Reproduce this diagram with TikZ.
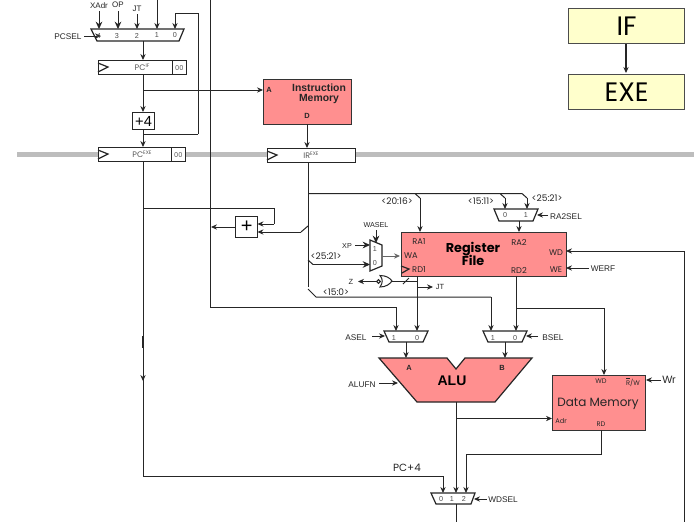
\documentclass[tikz,border=0pt]{standalone}
\usepackage{fontspec}
\setmainfont{Liberation Sans}
\newfontfamily\goth{Poppins}
\usetikzlibrary{arrows.meta,calc}
\definecolor{pinkf}{HTML}{FF8F8F}
\definecolor{yelf}{HTML}{FFFFCC}
\definecolor{ink}{HTML}{262626}
\definecolor{barg}{HTML}{BDBDBD}
\newcommand{\fs}[1]{\fontsize{#1}{#1}\selectfont}
\tikzset{
 x=0.75pt,y=-0.75pt,
 wire/.style={draw=ink,line width=0.75pt},
 arr/.style={wire,-{Stealth[length=4.5pt,width=4pt]}},
 heavy/.style={arr,-{Stealth[length=5.5pt,width=5pt]}},
 lab/.style={inner sep=0pt,text=ink,font=\fs{6.2}},
 glab/.style={inner sep=0pt,text=ink,font=\goth\fs{6.2}},
 blab/.style={inner sep=0pt,text=ink,font=\goth\fs{6.8}},
 dig/.style={inner sep=0pt,text=black!70,font=\fs{5.4}},
 reg/.style={draw=ink,line width=0.9pt,fill=white,inner sep=0pt,minimum height=10.5pt,text=black!65,font=\goth\fs{6}},
 mem/.style={draw=black!80,line width=0.9pt,fill=pinkf,inner sep=0pt},
 stage/.style={draw=black!70,line width=0.9pt,fill=yelf,inner sep=0pt,minimum width=87pt,minimum height=26pt,font=\goth\fs{20}},
 sumbox/.style={draw=ink,line width=0.9pt,fill=white,inner sep=0pt},
 mux/.style={draw=ink,line width=0.9pt,fill=white}
}
\newcommand{\Sup}[1]{\raisebox{2pt}{\fs{3.8}#1}}
\begin{document}
\begin{tikzpicture}
\useasboundingbox[fill=white] (0,0) rectangle (694,522);
% grey bar
\fill[barg] (17,152) rectangle (694,157);

% boxes
\node[reg,minimum width=56.25pt,anchor=north west] (pcif) at (98,60) {};
\node[reg,minimum width=10.5pt,anchor=north east] (pcifz) at (187,60) {\fs{5}00};
\node[lab,text=black!65,font=\goth\fs{6}] (pciflab) at (142,67) {PC\Sup{IF}};
\node[reg,minimum width=55.5pt,anchor=north west] (pcex) at (98,147) {};
\node[reg,minimum width=10.5pt,anchor=north east] (pcexz) at (186,147) {\fs{5}00};
\node[lab,text=black!65,font=\goth\fs{6}] (pcexlab) at (142,154) {PC\Sup{EXE}};
\node[reg,minimum width=66pt,anchor=north west] (irex) at (267,148) {};
\node[lab,text=black!65,font=\goth\fs{6}] (irlab) at (311,155) {IR\Sup{EXE}};
\node[sumbox,minimum width=16.5pt,minimum height=12.75pt,anchor=north west,font=\fs{11}] (plusfour) at (132,112) {+4};
\node[sumbox,minimum width=16.5pt,minimum height=15.75pt,anchor=north west,font=\fs{15}] (adder) at (235,216) {+};
\node[mem,minimum width=66pt,minimum height=33.75pt,anchor=north west] (imem) at (263,79) {};
\node[mem,minimum width=123.75pt,minimum height=33pt,anchor=north west] (rf) at (401,232) {};
\node[mem,minimum width=69.75pt,minimum height=41.25pt,anchor=north west] (dmem) at (552,375) {};
\node[stage,anchor=north west] (ifst) at (568,8) {\raisebox{-2.2pt}{IF}};
\node[stage,anchor=north west] (exest) at (568,74) {\raisebox{-2.2pt}{EXE}};

% clock triangles
\draw[wire,line width=0.9pt] (98,63) -- (108,67) -- (98,72);
\draw[wire,line width=0.9pt] (98,150) -- (108,154) -- (98,159);
\draw[wire,line width=0.9pt] (267,151) -- (277,155) -- (267,160);
\draw[wire,line width=0.9pt] (401,266) -- (409,269) -- (402,273);

% muxes
\draw[mux] (91,29) -- (184,29) -- (179,41) -- (97,41) -- cycle;
\draw[mux] (494,209) -- (538,209) -- (533,221) -- (499,221) -- cycle;
\draw[mux] (370,240) -- (382,245) -- (382,266) -- (370,271) -- cycle;
\draw[mux] (384,331) -- (428,331) -- (423,342) -- (389,342) -- cycle;
\draw[mux] (483,331) -- (527,331) -- (522,342) -- (488,342) -- cycle;
\draw[mux] (431,493) -- (475,493) -- (471,504) -- (436,504) -- cycle;
% ALU
\draw[mem,draw=ink] (379,358) -- (447,358) -- (456,369) -- (465,358) -- (532,358) -- (495,402) -- (417,402) -- cycle;

% ports
\coordinate (in4) at (99,29); \coordinate (in3) at (118,29); \coordinate (in2) at (137,29);
\coordinate (in1) at (157,29); \coordinate (in0) at (175,29);
\coordinate (pcm) at (143,41);
\coordinate (aIn1) at (396,331); \coordinate (aIn0) at (417,331);
\coordinate (bIn1) at (491,331); \coordinate (bIn0) at (516,331);
\coordinate (w0) at (443,493); \coordinate (w1) at (456,493); \coordinate (w2) at (466,493);
\coordinate (aluO) at (456,402);
\coordinate (aluA) at (406,358); \coordinate (aluB) at (505,358);

% PC path
\draw[heavy] (99,11) -- (in4);
\draw[heavy] (118,11) -- (in3);
\draw[arr] (137,14) -- (in2);
\draw[arr] (157,0) -- (in1);
\draw[arr] (198,134) -- (198,13) -- (175,13) -- (in0);
\draw[wire] (143,134) -- (198,134);
\draw[arr] (pcm) -- (143,60);
\draw[arr] (143,74) -- (143,112);
\draw[arr] (143,90) -- (263,90);
\draw[arr] (143,129) -- (143,147);
\draw[wire] (210,0) -- (210,307) -- (396,307);
\draw[arr] (396,307) -- (aIn1);
\draw[arr] (307,124) -- (307,148);

% PC+4 path
\draw[arr] (143,161) -- (143,476) -- (443,476) -- (w0);
\draw[wire,line width=1.2pt] (143,336) -- (143,348);
\draw[arr] (143,372) -- (143,381);
\draw[wire] (143,208) -- (274,208) -- (274,224);
\draw[arr] (274,224) -- (257.5,224);
\draw[arr] (301,232) -- (257.5,232);
\draw[wire] (301,232) -- (308,226);
\draw[arr] (adder.west |- 0,227) -- (211,227);

% IR fan-out
\draw[wire] (308,162) -- (308,287);
\draw[wire] (308,193.5) -- (415,193.5) -- (420,198);
\draw[arr] (420,198) -- (420,232);
\draw[wire] (415,193.5) -- (500,193.5) -- (505,198);
\draw[arr] (505,198) -- (505,209);
\draw[wire] (500,193.5) -- (522,193.5) -- (527,198);
\draw[arr] (527,198) -- (527,209);
\draw[arr] (519,221) -- (519,232);
\draw[wire] (308,260) -- (313,264.5);
\draw[heavy] (313,264.5) -- (370,264.5);
\draw[wire] (308,289) -- (316,297) -- (491,297);
\draw[arr] (491,297) -- (bIn1);
\draw[heavy] (355,245) -- (370,245);
\draw[heavy] (376,230) -- (376,243);
\draw[arr,draw=black!60] (382,256) -- (400,256);

% RD1, RD2
\draw[arr] (417,276) -- (aIn0);
\draw[arr] (417,287) -- (433,287);
\draw[wire] (417,281) -- (392,281);
\draw[wire] (403,284) -- (409,278);
\draw[wire,fill=white] (380,275.5) .. controls (386,275.5) and (390,278) .. (392,281) .. controls (390,284) and (386,287) .. (380,287) .. controls (383,283) and (383,279) .. (380,275.5) -- cycle;
\draw[wire,fill=white] (378.5,281.5) circle[radius=1.8];
\draw[arr] (376.5,281.5) -- (358,281.5);
\draw[arr] (516,276) -- (bIn0);
\draw[wire] (516,308) -- (604,308);
\draw[arr] (604,308) -- (604,375);

% mux outputs
\draw[arr] (406,342) -- (aluA);
\draw[arr] (505,342) -- (aluB);
\draw[arr] (aluO) -- (w1);
\draw[arr] (456,418.5) -- (552,418.5);
\draw[arr] (601,430) -- (601,454) -- (466,454) -- (w2);
\draw[wire] (456,504) -- (456,522);
\draw[arr] (684,522) -- (684,251) -- (566,251);

% control arrows
\draw[arr] (84,36) -- (101,36);
\draw[arr] (548,215) -- (537,215);
\draw[arr] (589,268) -- (566,268);
\draw[arr] (372,336) -- (385,336);
\draw[arr] (538,336) -- (526,336);
\draw[arr] (379,383) -- (398,383);
\draw[arr] (661,380) -- (646,380);
\draw[arr] (487,499) -- (474,499);
\draw[arr,line width=0.9pt] (626,44) -- (626,73);

% labels
\node[lab,font=\fs{6}] (lxadr) at (99,6) {XAdr};
\node[lab,font=\fs{6}] (lop) at (118,5) {OP};
\node[lab,font=\fs{6}] (ljt) at (137,9) {JT};
\node[lab] (lpcsel) at (68,37) {PCSEL};
\node[dig] at (99,36) {4};
\node[dig] at (117,36) {3};
\node[dig] at (137,35.5) {2};
\node[dig] at (157,35.5) {1};
\node[dig] at (175,35.5) {0};

\node[inner sep=0pt,align=center,font=\bfseries\fs{7.8},text=ink] (limem) at (319,94) {Instruction\\[-0.5pt]Memory};
\node[lab,font=\bfseries\fs{5.6}] at (269,90) {A};
\node[lab,font=\bfseries\fs{5.6}] at (307,116) {D};

\node[inner sep=0pt,align=center,font=\goth\bfseries\fs{9.6},text=black] (lrf) at (473,254) {Register\\[-1pt]File};
\node[glab] at (419,242) {RA1};
\node[glab] at (519,242) {RA2};
\node[glab] at (411,256) {WA};
\node[glab] at (419,270) {RD1};
\node[glab] at (519,270) {RD2};
\node[glab] at (556,253) {WD};
\node[glab] at (556,270) {WE};
\node[lab] at (603,269) {WERF};
\node[blab] at (397,201) {<20:16>};
\node[blab] at (481,201) {<15:11>};
\node[blab] at (547,198) {<25:21>};
\node[lab] at (566,217) {RA2SEL};
\node[dig] at (505,215) {0};
\node[dig] at (526,215) {1};
\node[blab] at (326,256) {<25:21>};
\node[blab] at (336,292) {<15:0>};
\node[lab,font=\fs{5.4}] at (376,225) {WASEL};
\node[lab,font=\fs{5.4}] at (347,246) {XP};
\node[dig] at (375,249) {1};
\node[dig] at (375,263) {0};
\node[lab,font=\fs{5.6}] at (351,282) {Z};
\node[lab,font=\fs{5.6}] at (440,287) {JT};
\node[lab] at (356,338) {ASEL};
\node[lab] at (553,338) {BSEL};
\node[dig] at (394,338) {1};
\node[dig] at (417,338) {0};
\node[dig] at (493,338) {1};
\node[dig] at (515,338) {0};
\node[lab] at (362,385) {ALUFN};
\node[inner sep=0pt,font=\bfseries\fs{10.5},text=black] at (452,381) {ALU};
\node[lab,font=\bfseries\fs{5.6}] at (409,368) {A};
\node[lab,font=\bfseries\fs{5.6}] at (502,368) {B};
\node[glab,font=\goth\fs{9}] at (598,404) {Data Memory};
\node[glab,font=\goth\fs{5}] at (601,381) {WD};
\node[glab,font=\goth\fs{5}] at (633,382) {$\overline{\mbox{R}}$/W};
\node[glab,font=\goth\fs{5}] at (561,421) {Adr};
\node[glab,font=\goth\fs{5}] at (601,424) {RD};
\node[lab,font=\fs{8},anchor=west] at (662,380) {Wr};
\node[glab,font=\goth\fs{7.8}] at (407,468) {PC+4};
\node[dig] at (441,499) {0};
\node[dig] at (452,499) {1};
\node[dig] at (464,499) {2};
\node[lab] at (503,500) {WDSEL};
\end{tikzpicture}
\end{document}
